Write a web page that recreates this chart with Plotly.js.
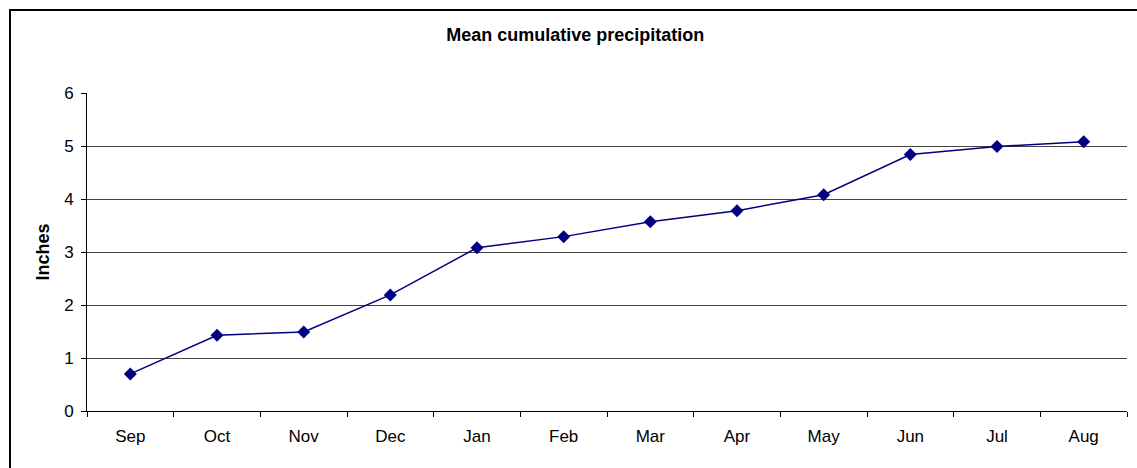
<!DOCTYPE html>
<html>
<head>
<meta charset="utf-8">
<script src="https://cdn.plot.ly/plotly-3.0.1.min.js"></script>
<style>
  html, body { margin: 0; padding: 0; background: #fff; }
  #wrap { position: relative; width: 1137px; height: 468px; overflow: hidden; }
  #chart { width: 1137px; height: 468px; }
  #frame { position: absolute; left: 9px; top: 9px; width: 1200px; height: 600px;
           border-left: 2px solid #000; border-top: 2px solid #000; pointer-events: none; }
</style>
</head>
<body>
<div id="wrap">
  <div id="chart"></div>
  <div id="frame"></div>
</div>
<script>
const months = ['Sep','Oct','Nov','Dec','Jan','Feb','Mar','Apr','May','Jun','Jul','Aug'];
const inches = [0.70, 1.43, 1.49, 2.19, 3.08, 3.29, 3.57, 3.78, 4.08, 4.84, 4.99, 5.08];
const yTicks = [0, 1, 2, 3, 4, 5, 6];

const trace = {
  x: months,
  y: inches,
  type: 'scatter',
  mode: 'lines+markers',
  line: { color: '#000080', width: 1.5 },
  marker: { symbol: 'diamond', size: 10, color: '#000080' },
  hoverinfo: 'x+y'
};

const layout = {
  width: 1137,
  height: 468,
  margin: { l: 86.5, r: 10, t: 93, b: 57 },
  paper_bgcolor: '#ffffff',
  plot_bgcolor: '#ffffff',
  showlegend: false,
  font: { family: 'Arial, "Liberation Sans", sans-serif', size: 17, color: '#000' },
  title: {
    text: '<b>Mean cumulative precipitation</b>',
    font: { size: 18, color: '#000' },
    x: 0.506, xanchor: 'center',
    y: 0.925, yanchor: 'middle'
  },
  xaxis: {
    type: 'category',
    tickson: 'boundaries',
    ticks: 'outside',
    ticklen: 5,
    tickcolor: '#000',
    showline: true,
    linecolor: '#000',
    linewidth: 1,
    showgrid: false,
    zeroline: false,
    tickfont: { size: 17 },
    ticklabelstandoff: 10,
    range: [-0.5, 11.5]
  },
  yaxis: {
    range: [0, 6],
    tickvals: yTicks,
    ticks: 'outside',
    ticklen: 5,
    tickcolor: '#000',
    showline: true,
    linecolor: '#000',
    linewidth: 1,
    showgrid: true,
    gridcolor: '#444',
    gridwidth: 1,
    zeroline: false,
    tickfont: { size: 17 },
    ticklabelstandoff: 4,
    title: { text: '<b>Inches</b>', font: { size: 18 }, standoff: 9 }
  }
};

Plotly.newPlot('chart', [trace], layout, { displayModeBar: false, staticPlot: true });
</script>
</body>
</html>
